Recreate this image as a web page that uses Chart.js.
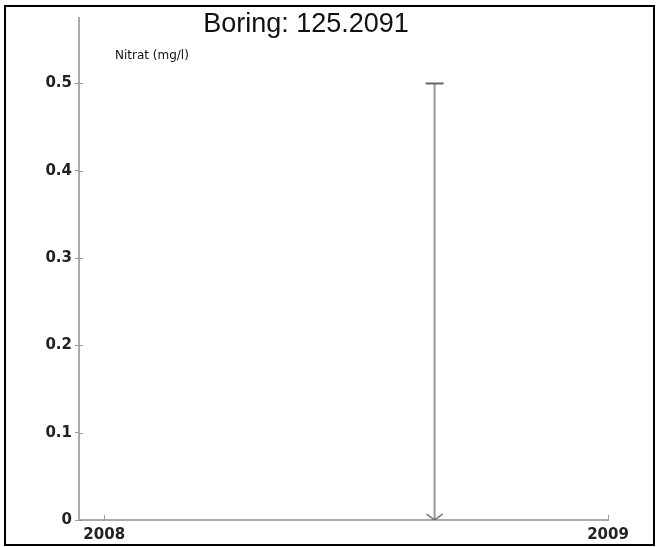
<!DOCTYPE html>
<html>
<head>
<meta charset="utf-8">
<script src="https://cdn.jsdelivr.net/npm/chart.js@4.4.0/dist/chart.umd.min.js"></script>
<style>
  body { margin: 0; background: #fff; }
  #wrap { position: relative; width: 659px; height: 547px; }
  #frame { position: absolute; left: 4px; top: 5px; width: 651px; height: 541px; border: 2px solid #000; box-sizing: border-box; }
  #chart { position: absolute; left: 0; top: 0; }
</style>
</head>
<body>
<div id="wrap">
  <div id="frame"></div>
  <canvas id="chart" width="659" height="547"></canvas>
</div>
<script>
// data
var boring = "125.2091";
var unitLabel = "Nitrat (mg/l)";
var sampleDates = ["2008-08-28"];
var nitrat = [0.5];
var xTicks = [2008, 2009];
var yTicks = [0, 0.1, 0.2, 0.3, 0.4, 0.5];

function decimalYear(s)
{
    var d = new Date(s + "T00:00:00Z");
    var y = d.getUTCFullYear();
    var start = Date.UTC(y, 0, 1), end = Date.UTC(y + 1, 0, 1);
    return y + (d.getTime() - start) / (end - start);
}

// little arrow head for the bottom end of the line
var arrow = document.createElement("canvas");
arrow.width = 20; arrow.height = 14;
var actx = arrow.getContext("2d");
actx.strokeStyle = "#666";
actx.lineWidth = 1.5;
actx.beginPath();
actx.moveTo(2, 1);
actx.lineTo(10, 7);
actx.lineTo(18, 1);
actx.stroke();

var lineData = [];
for (var i = 0; i < sampleDates.length; i++) {
    var x = decimalYear(sampleDates[i]);
    lineData.push({x: x, y: nitrat[i]});
    lineData.push({x: x, y: 0});
}

var extras = {
    id: "extras",
    afterDraw: function(chart) {
        var ctx = chart.ctx;
        var xs = chart.scales.x, ys = chart.scales.y;
        var a = chart.chartArea;
        ctx.save();
        ctx.strokeStyle = "#999";
        ctx.lineWidth = 1;
        // inward ticks
        xTicks.forEach(function(v) {
            var px = Math.round(xs.getPixelForValue(v)) + 0.5;
            ctx.beginPath(); ctx.moveTo(px, a.bottom); ctx.lineTo(px, a.bottom - 5); ctx.stroke();
        });
        yTicks.forEach(function(v) {
            var py = Math.round(ys.getPixelForValue(v)) + 0.5;
            ctx.beginPath(); ctx.moveTo(a.left, py); ctx.lineTo(a.left + 4, py); ctx.stroke();
        });
        // title and unit
        ctx.fillStyle = "#111";
        ctx.textAlign = "center";
        ctx.textBaseline = "alphabetic";
        ctx.font = "27px 'Liberation Sans', Arial, sans-serif";
        ctx.fillText("Boring: " + boring, 306, 32);
        ctx.textAlign = "left";
        ctx.font = "12px 'DejaVu Sans', sans-serif";
        ctx.fillText(unitLabel, 115, 59);
        ctx.restore();
    }
};

var ctx = document.getElementById("chart");
var chartParams = {
    type: "line",
    data: {
        datasets: [{
            label: "Nitrat",
            data: lineData,
            borderColor: "#999",
            borderWidth: 2,
            fill: false,
            pointStyle: ["line", arrow],
            pointRadius: 9,
            pointBorderWidth: 2,
            pointBorderColor: "#666",
            pointBackgroundColor: "#666"
        }]
    },
    options: {
        responsive: false,
        animation: false,
        layout: { padding: { left: 0, top: 18, right: 51, bottom: 0 } },
        plugins: {
            legend: { display: false },
            title: { display: false },
            tooltip: { enabled: false }
        },
        scales: {
            x: {
                type: "linear",
                min: 2007.95,
                max: 2009,
                afterBuildTicks: function(s) { s.ticks = xTicks.map(function(v) { return {value: v}; }); },
                afterFit: function(s) { s.height = 27; },
                grid: { display: true, drawOnChartArea: false, drawTicks: false },
                border: { color: "#aaa", width: 2 },
                ticks: {
                    padding: 6,
                    color: "#222",
                    font: { family: "'DejaVu Sans', sans-serif", size: 15, weight: "bold" },
                    maxRotation: 0,
                    callback: function(v) { return String(v); }
                }
            },
            y: {
                min: 0,
                max: 0.575,
                afterBuildTicks: function(s) { s.ticks = yTicks.map(function(v) { return {value: v}; }); },
                afterFit: function(s) { s.width = 79; },
                grid: { display: true, drawOnChartArea: false, tickLength: 4, color: "#999" },
                border: { color: "#aaa", width: 2 },
                ticks: {
                    padding: 3,
                    color: "#222",
                    font: { family: "'DejaVu Sans', sans-serif", size: 15, weight: "bold" },
                    callback: function(v) { return String(v); }
                }
            }
        }
    },
    plugins: [extras]
};

var myChart = new Chart(ctx, chartParams);
</script>
</body>
</html>
